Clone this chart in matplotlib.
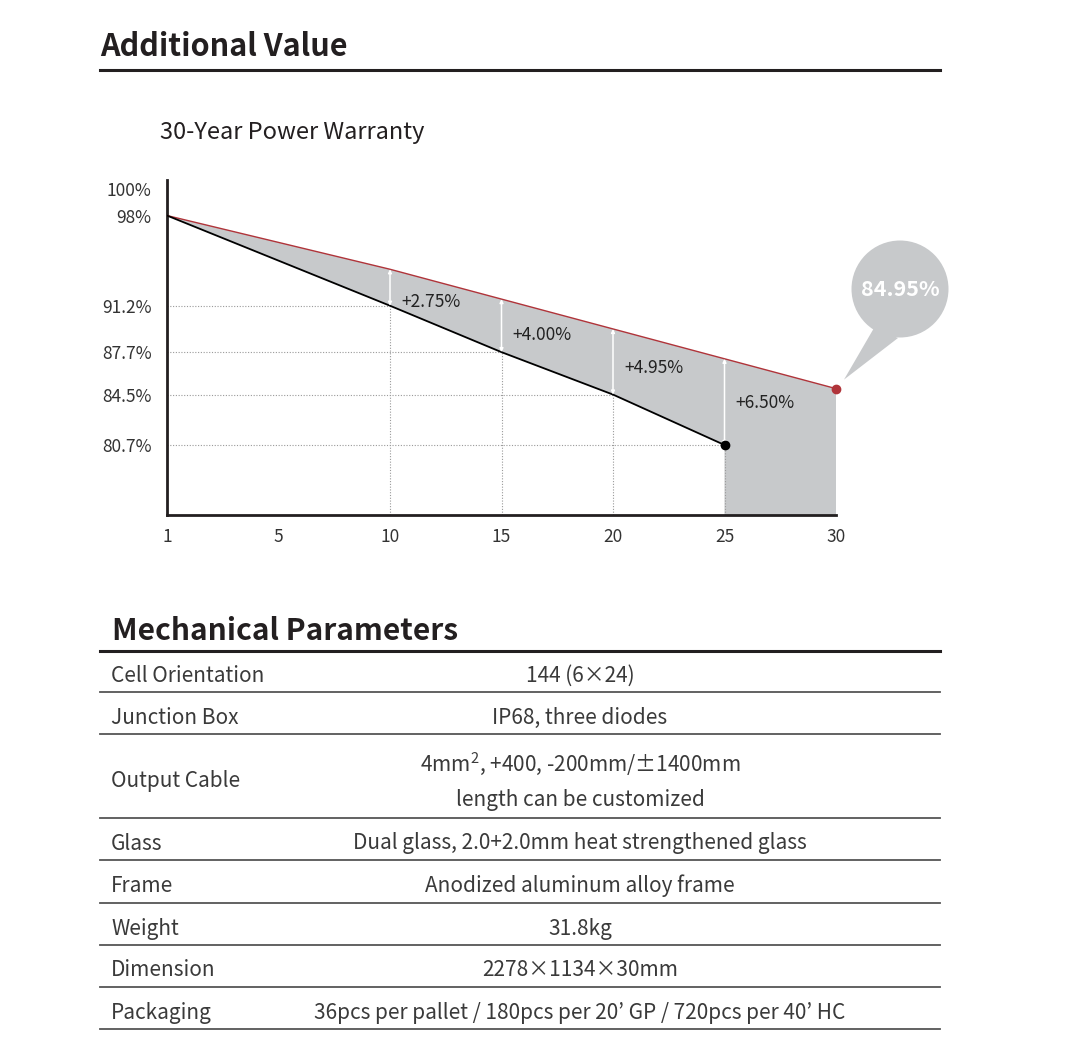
import matplotlib
matplotlib.use("Agg")
import matplotlib.pyplot as plt
from matplotlib.patches import Circle, Polygon

plt.rcParams['font.family'] = ['Noto Sans CJK SC', 'DejaVu Sans']
plt.rcParams['mathtext.default'] = 'regular'

# ---------------- data ----------------
tick_years = [1, 5, 10, 15, 20, 25, 30]
base_years = [1, 10, 15, 20, 25]
base_values = [98.0, 91.2, 87.7, 84.5, 80.7]
gain_years = [10, 15, 20, 25]
gains = [2.75, 4.00, 4.95, 6.50]
final_year = 30
final_value = 84.95
y_ticks = [100, 98, 91.2, 87.7, 84.5, 80.7]

row_labels = ["Cell Orientation", "Junction Box", "Output Cable", "Glass",
              "Frame", "Weight", "Dimension", "Packaging"]
row_values = ["144 (6×24)", "IP68, three diodes",
              "4mm$^{\\mathregular{2}}$, +400, -200mm/±1400mm\nlength can be customized",
              "Dual glass, 2.0+2.0mm heat strengthened glass",
              "Anodized aluminum alloy frame", "31.8kg", "2278×1134×30mm",
              "36pcs per pallet / 180pcs per 20’ GP / 720pcs per 40’ HC"]

# ---------------- figure ----------------
W, H = 1079, 1059
fig = plt.figure(figsize=(W / 100, H / 100), dpi=100)
fig.patch.set_facecolor('white')

DARK = '#231f20'
TXT = '#3a3a3a'
GREY = '#c7c9cb'
RED = '#b0343a'

pos = {y: i for i, y in enumerate(tick_years)}

ax = fig.add_axes([167 / W, 1 - 515 / H, (836 - 167) / W, (515 - 180) / H], zorder=2)
ax.set_facecolor('none')
ymin, ymax = 75.42, 100.68
ax.set_xlim(0, len(tick_years) - 1)
ax.set_ylim(ymin, ymax)

bx = [pos[y] for y in base_years]
red_years = [base_years[0]] + gain_years + [final_year]
red_vals = [base_values[0]] + [b + g for b, g in zip(base_values[1:], gains)] + [final_value]
rx = [pos[y] for y in red_years]

# shaded area
verts = list(zip(rx, red_vals)) + [(rx[-1], ymin), (bx[-1], ymin)] + list(zip(bx, base_values))[::-1]
ax.add_patch(Polygon(verts, closed=True, facecolor=GREY, edgecolor='none', zorder=1))

# dotted guides
for y, v in zip(base_years[1:], base_values[1:]):
    x = pos[y]
    ax.plot([0, x], [v, v], color='#9a9a9a', lw=0.8, ls=(0, (1, 1.5)), zorder=0.5)
    ax.plot([x, x], [ymin, v], color='#9a9a9a', lw=0.8, ls=(0, (1, 1.5)), zorder=1.5)

# lines
ax.plot(rx, red_vals, color=RED, lw=1.0, zorder=3)
ax.plot(bx, base_values, color='black', lw=1.3, zorder=3)

# arrows + labels
for y, b, g in zip(gain_years, base_values[1:], gains):
    x = pos[y]
    ax.annotate('', xy=(x, b + g), xytext=(x, b),
                arrowprops=dict(arrowstyle='<|-|>', color='white', lw=1.1,
                                mutation_scale=5, shrinkA=0, shrinkB=0), zorder=4)
    ax.annotate(f'+{g:.2f}%', xy=(x, b + g), xytext=(8, -(17 + 2.3 * g)),
                textcoords='offset points', ha='left', va='center',
                fontsize=12.5, color='#222222', zorder=5)

ax.plot(pos[base_years[-1]], base_values[-1], 'o', color='black', ms=6, zorder=5)
ax.plot(pos[final_year], final_value, 'o', color=RED, ms=6, zorder=5, clip_on=False)

ax.set_xticks(range(len(tick_years)))
ax.set_xticklabels([str(t) for t in tick_years])
ax.set_yticks(y_ticks)
ax.set_yticklabels([f'{v:g}%' for v in y_ticks])
ax.tick_params(length=0, labelsize=12.5, labelcolor='#333333')
ax.tick_params(axis='y', pad=11)
ax.tick_params(axis='x', pad=9)
for s in ['top', 'right']:
    ax.spines[s].set_visible(False)
for s in ['left', 'bottom']:
    ax.spines[s].set_linewidth(2)
    ax.spines[s].set_color(DARK)

# ---------------- overlay in pixel coords ----------------
ov = fig.add_axes([0, 0, 1, 1], zorder=3)
ov.set_xlim(0, W)
ov.set_ylim(H, 0)
ov.axis('off')
ov.patch.set_visible(False)

ov.text(100, 47, 'Additional Value', fontsize=22, fontweight='bold', color=DARK,
        ha='left', va='center')
ov.plot([100, 940], [70, 70], color=DARK, lw=2.2)
ov.text(160, 133, '30-Year Power Warranty', fontsize=17, color=DARK, ha='left', va='center')

# bubble
fig.canvas.draw()
dot = ax.transData.transform((pos[final_year], final_value))
tip = ov.transData.inverted().transform(dot)
tip = (tip[0] + 8, tip[1] - 9)
ov.add_patch(Polygon([(874, 328), (898, 338), tip], closed=True, facecolor=GREY, edgecolor='none'))
ov.add_patch(Circle((900, 289), 48.5, facecolor=GREY, edgecolor='none'))
ov.text(900, 290, f'{final_value:.2f}%', color='white', fontsize=15.5, fontweight='bold',
        ha='center', va='center')

# table
ov.text(112, 631, 'Mechanical Parameters', fontsize=21.6, fontweight='bold', color=DARK,
        ha='left', va='center')
ov.plot([100, 940], [651, 651], color=DARK, lw=2.2)
row_lines = [692, 734, 818, 860, 903, 945, 987, 1029]
top = 651
for lab, val, bot in zip(row_labels, row_values, row_lines):
    cy = (top + bot) / 2 + 4.5
    ov.text(111, cy, lab, fontsize=15, color=TXT, ha='left', va='center')
    fam = ['Noto Sans CJK KR', 'DejaVu Sans'] if '’' in val else None
    ov.text(580, cy, val, fontsize=15, color=TXT, ha='center', va='center',
            linespacing=1.7, family=fam)
    ov.plot([100, 940], [bot, bot], color='#555555', lw=1.3)
    top = bot

fig.savefig('out.png', dpi=100, facecolor='white')
